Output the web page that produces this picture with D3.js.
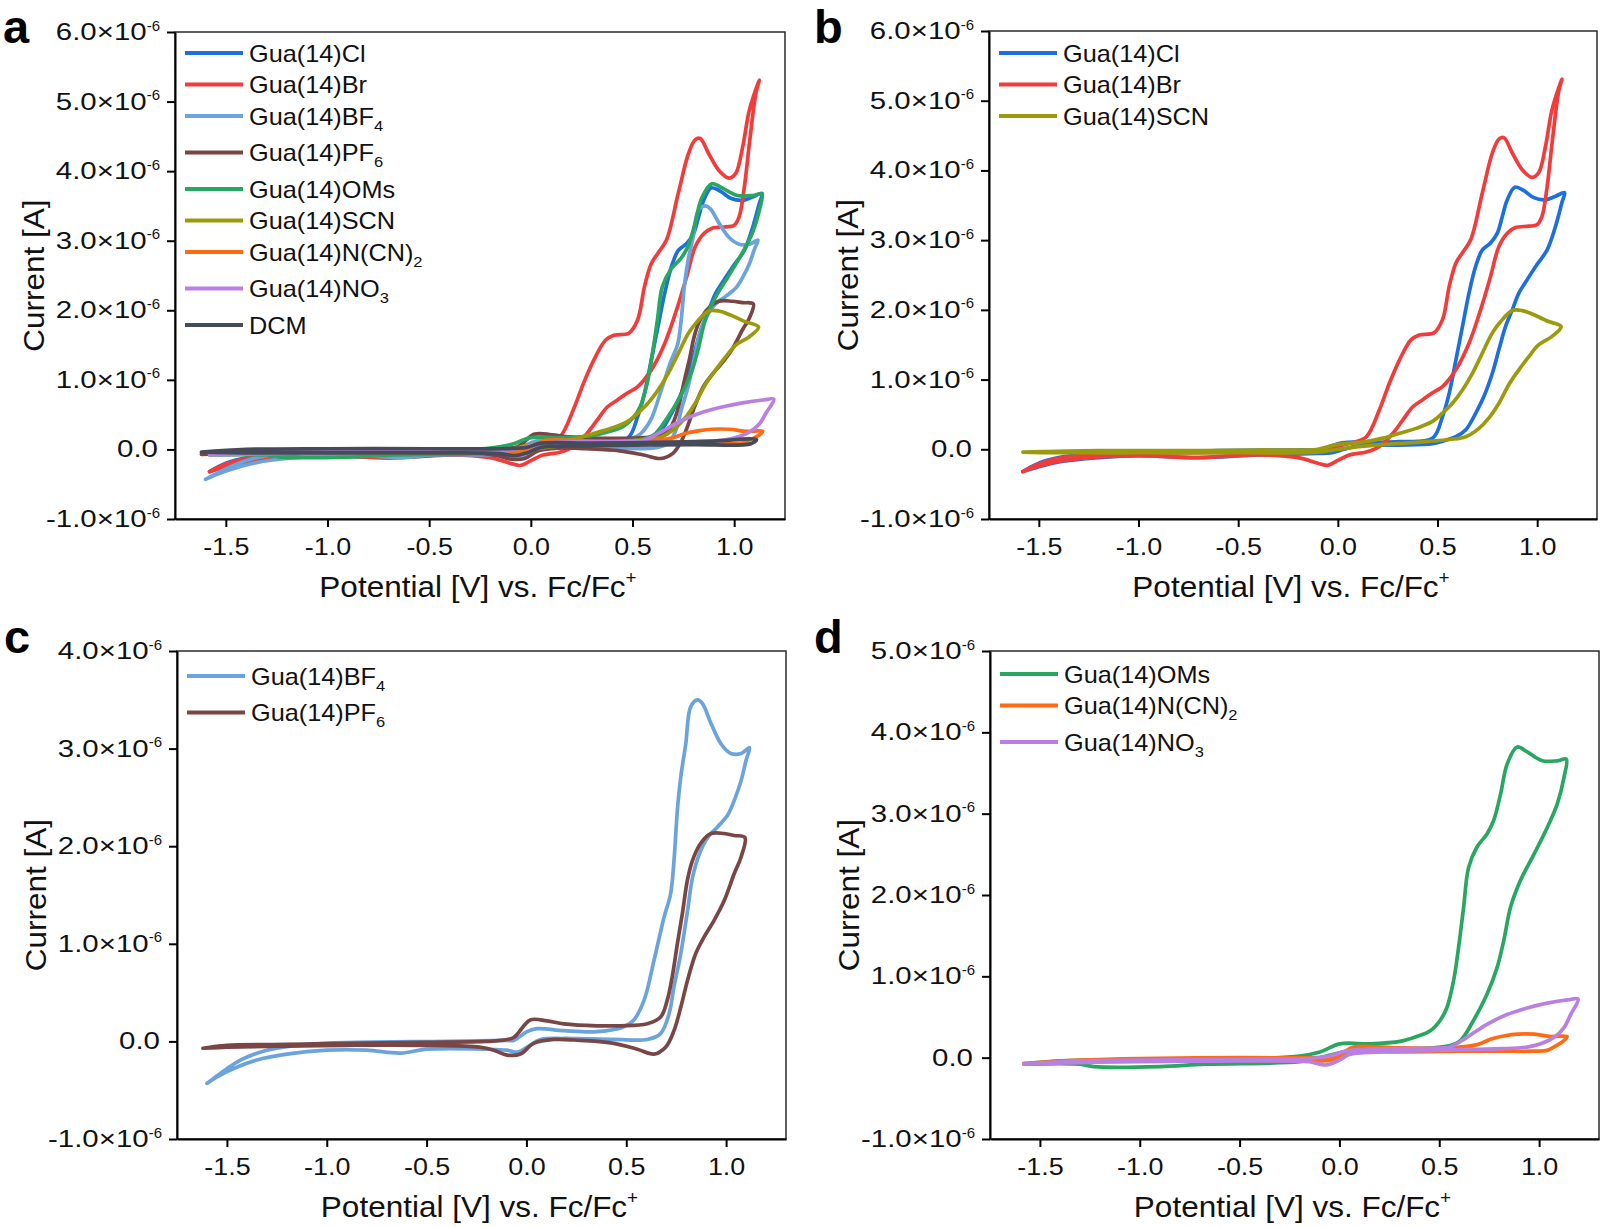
<!DOCTYPE html>
<html>
<head>
<meta charset="utf-8">
<script src="https://cdn.jsdelivr.net/npm/d3@7"></script>
<style>
  html, body { margin: 0; padding: 0; background: #fff; }
  svg { display: block; font-family: "Liberation Sans", Arial, sans-serif; }
</style>
</head>
<body>
<svg id="chart" width="1600" height="1227"></svg>
<script>
// cyclic voltammograms, [potential V vs Fc/Fc+, current in 1e-6 A]
// each loop: forward scan from the cathodic end, then the reverse scan back
const gua14Cl = [
  [-1.58,-0.32],[-1.5,-0.2],[-1.4,-0.12],[-1.25,-0.07],[-1.0,-0.04],[-0.6,-0.02],[-0.2,-0.01],
  [-0.08,0.0],[0.0,0.08],[0.05,0.1],[0.15,0.1],[0.31,0.11],[0.475,0.16],[0.525,0.47],[0.559,0.81],
  [0.592,1.28],[0.625,1.76],[0.658,2.24],[0.692,2.63],[0.725,2.86],[0.766,2.96],[0.8,3.1],[0.825,3.34],
  [0.85,3.58],[0.888,3.76],[0.933,3.71],[0.983,3.61],[1.042,3.58],[1.092,3.63],[1.137,3.68],
  [1.124,3.54],[1.092,3.2],[1.05,2.86],[0.999,2.65],[0.949,2.43],[0.908,2.24],[0.875,2.0],[0.841,1.76],
  [0.808,1.43],[0.775,1.09],[0.733,0.76],[0.692,0.52],[0.642,0.28],[0.592,0.18],[0.542,0.13],[0.475,0.08],
  [0.3,0.06],[0.1,0.05],[0.03,0.0],[-0.03,-0.05],[-0.1,-0.06],[-0.4,-0.08],[-0.7,-0.12],[-1.0,-0.09],
  [-1.2,-0.12],[-1.4,-0.18],[-1.5,-0.25],[-1.58,-0.32]
];
const gua14Br = [
  [-1.58,-0.32],[-1.5,-0.21],[-1.4,-0.13],[-1.2,-0.08],[-1.0,-0.06],[-0.5,-0.04],[-0.15,-0.03],
  [-0.05,-0.01],[0.02,0.06],[0.08,0.1],[0.143,0.18],[0.209,0.57],[0.259,0.95],[0.309,1.28],[0.367,1.57],
  [0.409,1.64],[0.482,1.67],[0.525,1.86],[0.559,2.34],[0.592,2.67],[0.625,2.82],[0.667,3.01],[0.725,3.68],
  [0.775,4.25],[0.808,4.45],[0.833,4.47],[0.875,4.25],[0.925,4.01],[0.975,3.9],[1.008,3.97],[1.042,4.35],
  [1.075,4.88],[1.124,5.31],
  [1.107,5.12],[1.075,4.4],[1.05,3.77],[1.024,3.34],[0.999,3.22],[0.958,3.2],[0.891,3.18],[0.85,3.1],
  [0.808,2.91],[0.766,2.48],[0.716,2.0],[0.658,1.52],[0.592,1.14],[0.525,0.9],[0.475,0.81],[0.426,0.71],
  [0.376,0.61],[0.326,0.42],[0.276,0.23],[0.209,0.04],[0.143,-0.04],[0.06,-0.08],[0.0,-0.16],[-0.05,-0.23],
  [-0.1,-0.2],[-0.2,-0.12],[-0.4,-0.08],[-0.7,-0.12],[-1.0,-0.09],[-1.2,-0.11],[-1.4,-0.17],[-1.5,-0.24],
  [-1.58,-0.32]
];
const gua14BF4 = [
  [-1.6,-0.43],[-1.5,-0.28],[-1.43,-0.19],[-1.3,-0.09],[-1.1,-0.03],[-0.85,-0.01],[-0.4,0.0],[-0.1,0.01],
  [-0.064,0.01],[0.003,0.1],[0.053,0.13],[0.187,0.11],[0.354,0.1],[0.488,0.15],[0.538,0.22],[0.589,0.42],
  [0.639,0.83],[0.689,1.27],[0.722,1.51],[0.739,1.85],[0.756,2.37],[0.773,2.71],[0.798,3.05],[0.823,3.43],
  [0.857,3.5],[0.882,3.46],[0.924,3.26],[0.974,3.05],[1.024,2.95],[1.075,2.95],[1.117,3.01],
  [1.1,2.88],[1.075,2.67],[1.041,2.47],[1.008,2.32],[0.958,2.2],[0.908,2.09],[0.866,1.92],[0.832,1.68],
  [0.807,1.34],[0.773,0.9],[0.739,0.56],[0.714,0.28],[0.672,0.08],[0.605,0.02],[0.438,0.02],[0.187,0.03],
  [0.07,0.02],[0.003,-0.06],[-0.047,-0.11],[-0.097,-0.09],[-0.2,-0.08],[-0.5,-0.08],[-0.63,-0.12],
  [-0.8,-0.09],[-1.0,-0.09],[-1.2,-0.13],[-1.35,-0.19],[-1.51,-0.32],[-1.6,-0.43]
];
const gua14PF6 = [
  [-1.62,-0.07],[-1.5,-0.04],[-1.2,-0.03],[-0.9,-0.02],[-0.5,-0.01],[-0.2,0.0],[-0.13,0.01],[-0.064,0.04],
  [0.019,0.22],[0.103,0.21],[0.187,0.18],[0.354,0.16],[0.471,0.16],[0.605,0.18],[0.672,0.25],[0.705,0.42],
  [0.73,0.66],[0.756,1.0],[0.781,1.31],[0.806,1.65],[0.831,1.85],[0.873,2.03],[0.924,2.13],[0.99,2.13],
  [1.041,2.11],[1.094,2.09],
  [1.075,1.89],[1.041,1.72],[0.99,1.44],[0.94,1.24],[0.89,1.07],[0.848,0.9],[0.806,0.62],[0.773,0.35],
  [0.739,0.11],[0.697,-0.06],[0.639,-0.13],[0.555,-0.08],[0.438,-0.02],[0.271,0.01],[0.137,0.02],
  [0.036,-0.02],[-0.03,-0.13],[-0.097,-0.14],[-0.164,-0.09],[-0.23,-0.06],[-0.5,-0.04],[-0.9,-0.04],
  [-1.3,-0.05],[-1.5,-0.06],[-1.62,-0.07]
];
const gua14OMs = [
  [-1.58,-0.08],[-1.4,-0.04],[-1.0,-0.03],[-0.5,-0.02],[-0.2,0.02],[-0.098,0.07],[0.002,0.17],[0.153,0.17],
  [0.304,0.2],[0.388,0.26],[0.455,0.33],[0.505,0.46],[0.539,0.62],[0.572,0.95],[0.597,1.36],[0.622,1.85],
  [0.647,2.34],[0.689,2.59],[0.739,2.75],[0.773,2.92],[0.807,3.24],[0.84,3.61],[0.89,3.82],[0.94,3.76],
  [1.016,3.65],[1.091,3.65],[1.136,3.67],
  [1.125,3.45],[1.091,3.12],[1.041,2.83],[0.974,2.5],[0.907,2.18],[0.857,1.85],[0.823,1.44],[0.79,1.11],
  [0.739,0.78],[0.672,0.46],[0.606,0.21],[0.555,0.15],[0.388,0.11],[0.137,0.09],[0.02,0.07],[-0.098,0.0],
  [-0.2,-0.05],[-0.67,-0.08],[-0.9,-0.11],[-1.23,-0.11],[-1.3,-0.08],[-1.58,-0.08]
];
const gua14SCN = [
  [-1.58,-0.04],[-1.2,-0.02],[-0.8,-0.02],[-0.4,-0.01],[-0.1,0.0],[-0.02,0.06],[0.143,0.11],[0.226,0.16],
  [0.309,0.23],[0.392,0.3],[0.475,0.4],[0.525,0.52],[0.575,0.66],[0.625,0.85],[0.675,1.09],[0.725,1.38],
  [0.775,1.67],[0.816,1.83],[0.875,1.99],[0.925,1.99],[0.983,1.93],[1.05,1.84],[1.12,1.76],
  [1.075,1.62],[1.008,1.5],[0.958,1.33],[0.908,1.14],[0.858,0.93],[0.808,0.66],[0.758,0.45],[0.708,0.3],
  [0.642,0.18],[0.559,0.14],[0.392,0.1],[0.143,0.05],[0.0,0.0],[-0.1,-0.04],[-0.5,-0.05],[-1.0,-0.05],
  [-1.4,-0.05],[-1.58,-0.04]
];
const gua14NCN2 = [
  [-1.58,-0.07],[-1.3,-0.03],[-1.0,-0.01],[-0.5,0.0],[-0.1,0.0],[-0.05,0.01],[0.03,0.08],[0.07,0.13],
  [0.3,0.12],[0.56,0.12],[0.69,0.16],[0.76,0.23],[0.83,0.27],[0.89,0.29],[0.976,0.29],[1.06,0.26],[1.14,0.26],
  [1.12,0.2],[1.08,0.14],[1.04,0.09],[0.98,0.08],[0.8,0.08],[0.6,0.08],[0.3,0.07],[0.1,0.07],[0.03,0.03],
  [-0.05,-0.03],[-0.1,-0.04],[-0.5,-0.03],[-1.0,-0.04],[-1.3,-0.05],[-1.58,-0.07]
];
const gua14NO3 = [
  [-1.58,-0.08],[-1.3,-0.04],[-1.0,-0.03],[-0.5,-0.02],[-0.15,-0.01],[-0.05,0.02],[0.03,0.08],[0.1,0.1],
  [0.3,0.11],[0.52,0.12],[0.555,0.13],[0.639,0.25],[0.739,0.41],[0.84,0.53],[0.94,0.61],[1.041,0.67],
  [1.141,0.71],[1.195,0.72],
  [1.158,0.53],[1.125,0.37],[1.075,0.25],[1.008,0.17],[0.94,0.13],[0.807,0.11],[0.639,0.1],[0.472,0.09],
  [0.2,0.07],[0.05,0.04],[0.0,-0.03],[-0.07,-0.09],[-0.15,-0.05],[-0.5,-0.04],[-1.0,-0.05],[-1.3,-0.06],
  [-1.58,-0.08]
];
const dcm = [
  [-1.62,-0.04],[-1.4,0.0],[-1.0,0.01],[-0.5,0.01],[-0.15,0.01],[-0.02,0.03],[0.05,0.09],[0.3,0.09],
  [0.6,0.1],[0.9,0.12],[1.11,0.14],
  [1.08,0.08],[0.8,0.07],[0.5,0.06],[0.2,0.05],[0.05,0.03],[-0.02,-0.05],[-0.08,-0.09],[-0.15,-0.06],
  [-0.5,-0.05],[-1.0,-0.05],[-1.4,-0.05],[-1.62,-0.04]
];

const seriesData = [gua14Cl, gua14Br, gua14BF4, gua14PF6, gua14OMs, gua14SCN, gua14NCN2, gua14NO3, dcm];
// legend label: main text, subscript
const seriesLabels = [
  ["Gua(14)Cl", ""], ["Gua(14)Br", ""], ["Gua(14)BF", "4"], ["Gua(14)PF", "6"], ["Gua(14)OMs", ""],
  ["Gua(14)SCN", ""], ["Gua(14)N(CN)", "2"], ["Gua(14)NO", "3"], ["DCM", ""]
];
const seriesColors = ["#1d6fe0", "#f23c3c", "#6ba3dd", "#7a4545", "#28a760", "#9a9a0c", "#ff6b12", "#b880e2", "#454b58"];

const panelLetters = ["a", "b", "c", "d"];
const panelSeries = [[0, 1, 2, 3, 4, 5, 6, 7, 8], [0, 1, 5], [2, 3], [4, 6, 7]];
const panelXMin = [-1.75, -1.75, -1.75, -1.75];
const panelXMax = [1.25, 1.3, 1.3, 1.3];
const panelYMin = [-1, -1, -1, -1];
const panelYMax = [6, 6, 4, 5];
const xTickValues = [-1.5, -1.0, -0.5, 0.0, 0.5, 1.0];
const xTitle = "Potential [V] vs. Fc/Fc";
const yTitle = "Current [A]";
const yExponent = "-6";

// page layout (pixels)
const frames = [
  { left: 175, top: 32, width: 610, height: 487, legendTop: 21, letterX: 3, letterY: 43 },
  { left: 989, top: 31, width: 608, height: 488, legendTop: 22, letterX: 814, letterY: 43 },
  { left: 177, top: 651, width: 609, height: 488, legendTop: 25, letterX: 4, letterY: 653 },
  { left: 990, top: 651, width: 609, height: 488, legendTop: 23, letterX: 814, letterY: 653 }
];

const svg = d3.select("#chart");
svg.append("rect").attr("width", 1600).attr("height", 1227).attr("fill", "#fff");

const fmt = d3.format(".1f");
const label = v => fmt(v).replace("\u2212", "-");

panelLetters.forEach((_, i) => drawPanel(i));

function drawPanel(i) {
    const f = frames[i];
    const g = svg.append("g").attr("transform", `translate(${f.left},${f.top})`);

    const x = d3.scaleLinear().domain([panelXMin[i], panelXMax[i]]).range([0, f.width]);
    const y = d3.scaleLinear().domain([panelYMin[i], panelYMax[i]]).range([f.height, 0]);

    // box
    g.append("rect")
        .attr("width", f.width).attr("height", f.height)
        .attr("fill", "none").attr("stroke", "#2a2a2a").attr("stroke-width", 1.5);

    // curves
    const line = d3.line()
        .x(d => x(d[0]))
        .y(d => y(d[1]))
        .curve(d3.curveCatmullRom.alpha(0.5));

    panelSeries[i].forEach(k => {
        g.append("path")
            .datum(seriesData[k])
            .attr("d", line)
            .attr("fill", "none")
            .attr("stroke", seriesColors[k])
            .attr("stroke-width", 3.7)
            .attr("stroke-linejoin", "round")
            .attr("stroke-linecap", "round");
    });

    // x axis
    const xAxis = g.append("g")
        .attr("transform", `translate(0,${f.height})`)
        .call(d3.axisBottom(x).tickValues(xTickValues).tickSize(8).tickSizeOuter(0).tickFormat(label));
    xAxis.select(".domain").attr("stroke", "#000").attr("stroke-width", 2);
    xAxis.selectAll(".tick line").attr("stroke", "#000").attr("stroke-width", 2);
    xAxis.selectAll(".tick text")
        .attr("y", 36).attr("dy", null)
        .attr("fill", "#111")
        .style("font-size", "23px")
        .attr("transform", "scale(1.17,1)");

    // y axis
    const yTicks = d3.range(panelYMin[i], panelYMax[i] + 1);
    const yAxis = g.append("g")
        .call(d3.axisLeft(y).tickValues(yTicks).tickSize(8).tickSizeOuter(0).tickFormat(""));
    yAxis.select(".domain").attr("stroke", "#000").attr("stroke-width", 2);
    yAxis.selectAll(".tick line").attr("stroke", "#000").attr("stroke-width", 2);

    yTicks.forEach(v => {
        const t = g.append("g").attr("transform", `translate(-15,${y(v) + 8})`);
        if (v === 0) {
            t.append("text")
                .attr("text-anchor", "end")
                .attr("transform", "translate(-2,0) scale(1.28,1)")
                .attr("fill", "#111")
                .style("font-size", "23px")
                .text(label(v));
            return;
        }
        const sup = t.append("text")
            .attr("text-anchor", "end")
            .attr("y", -9.5)
            .attr("fill", "#111")
            .style("font-size", "15px")
            .text(yExponent);
        const supW = sup.node().getComputedTextLength();
        t.append("text")
            .attr("text-anchor", "end")
            .attr("transform", `translate(${-supW},0) scale(1.28,1)`)
            .attr("fill", "#111")
            .style("font-size", "23px")
            .text(label(v) + "\u00d710");
    });

    // axis titles
    const xt = svg.append("text")
        .attr("text-anchor", "middle")
        .attr("transform", `translate(${f.left + f.width / 2 - 2},${f.top + f.height + 78}) scale(1.05,1)`)
        .attr("fill", "#111")
        .style("font-size", "30px");
    xt.append("tspan").text(xTitle);
    xt.append("tspan").attr("dy", -13).style("font-size", "18px").text("+");

    svg.append("text")
        .attr("text-anchor", "middle")
        .attr("transform", `translate(${f.left - 131},${f.top + f.height / 2}) rotate(-90) scale(1.05,1)`)
        .attr("fill", "#111")
        .style("font-size", "30px")
        .text(yTitle);

    // legend
    let ly = f.top + f.legendTop;
    panelSeries[i].forEach(k => {
        const [main, sub] = seriesLabels[k];
        svg.append("line")
            .attr("x1", f.left + 10).attr("x2", f.left + 68)
            .attr("y1", ly).attr("y2", ly)
            .attr("stroke", seriesColors[k])
            .attr("stroke-width", 4);
        const lt = svg.append("text")
            .attr("transform", `translate(${f.left + 74},${ly + 8.5}) scale(1.1,1)`)
            .attr("fill", "#111")
            .style("font-size", "23px");
        lt.append("tspan").text(main);
        if (sub) lt.append("tspan").attr("dy", 6).style("font-size", "15px").text(sub);
        ly += 31.5 + (sub ? 5 : 0);
    });

    // panel letter
    svg.append("text")
        .attr("x", f.letterX).attr("y", f.letterY)
        .attr("fill", "#000")
        .style("font-size", "47px")
        .style("font-weight", "bold")
        .text(panelLetters[i]);
}
</script>
</body>
</html>
